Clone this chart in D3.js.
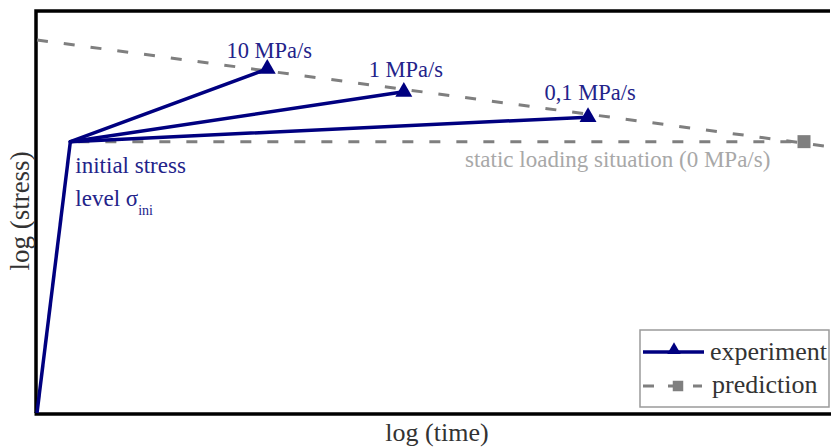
<!DOCTYPE html>
<html lang="en">
<head>
<meta charset="UTF-8">
<title>log stress vs log time</title>
<script src="https://d3js.org/d3.v7.min.js"></script>
<style>
  body { margin: 0; background: #fff; }
  text { font-family: "Liberation Serif", "Times New Roman", serif; }
</style>
</head>
<body>
<script>
    // data in abstract log units (x: log time, y: log stress), 0..100
    var initialPoint = [4.2, 67.5];
    var startPoint = [0, 0];
    var rateLabels = ["10 MPa/s", "1 MPa/s", "0,1 MPa/s"];
    var rateEndX = [29.0, 46.2, 69.4];
    var rateEndY = [85.6, 79.9, 73.6];
    var staticEnd = [96.6, 67.5];
    var predictionX = [0, 100];
    var predictionY = [92.8, 66.2];

    var W = 831, H = 448;

    var svg = d3.select('body')
        .append('svg')
        .attr('width', W)
        .attr('height', H);

    var x = d3.scaleLinear().domain([0, 100]).range([37, 831]);
    var y = d3.scaleLinear().domain([0, 100]).range([413, 11]);

    var navy = '#000080',
        navyText = '#23238a',
        grey = '#7f7f7f';

    // frame: left, top, bottom
    var frame = svg.append('g')
        .attr('stroke', '#000')
        .attr('stroke-width', 3.5)
        .attr('fill', 'none');
    frame.append('path')
        .attr('d', 'M' + x(0) + ',' + y(0) + 'V' + y(100) + 'H' + W)
        .attr('transform', 'translate(-1,0)');
    frame.append('line')
        .attr('x1', x(0) - 2.5).attr('x2', W)
        .attr('y1', y(0) + 1).attr('y2', y(0) + 1);

    var line = d3.line().x(d => x(d[0])).y(d => y(d[1]));

    // prediction: sloped dashed line and static horizontal dashed line
    var predPts = predictionX.map((v, i) => [v, predictionY[i]]);
    svg.append('path')
        .attr('d', line(predPts))
        .attr('fill', 'none')
        .attr('stroke', grey)
        .attr('stroke-width', 3)
        .attr('stroke-dasharray', '11,16');

    svg.append('path')
        .attr('d', line([initialPoint, staticEnd]))
        .attr('fill', 'none')
        .attr('stroke', grey)
        .attr('stroke-width', 3)
        .attr('stroke-dasharray', '11,16')
        .attr('stroke-dashoffset', -8);

    svg.append('path')
        .attr('transform', 'translate(' + x(staticEnd[0]) + ',' + y(staticEnd[1]) + ')')
        .attr('d', d3.symbol().type(d3.symbolSquare).size(169)())
        .attr('fill', grey);

    // experiment lines
    svg.append('path')
        .attr('d', line([startPoint, initialPoint]))
        .attr('fill', 'none')
        .attr('stroke', navy)
        .attr('stroke-width', 3.5)
        .attr('stroke-linejoin', 'round');

    rateEndX.forEach(function (ex, i) {
        var end = [ex, rateEndY[i]];
        svg.append('path')
            .attr('d', line([initialPoint, end]))
            .attr('fill', 'none')
            .attr('stroke', navy)
            .attr('stroke-width', 3.5)
            .attr('stroke-linecap', 'round');
        svg.append('path')
            .attr('transform', 'translate(' + x(ex) + ',' + y(end[1]) + ')')
            .attr('d', d3.symbol().type(d3.symbolTriangle).size(125)())
            .attr('fill', navy);
    });

    // rate labels
    var labelDy = [-11, -15, -17];
    rateEndX.forEach(function (ex, i) {
        svg.append('text')
            .attr('x', x(ex) + 2)
            .attr('y', y(rateEndY[i]) + labelDy[i])
            .attr('text-anchor', 'middle')
            .attr('font-size', 22.5)
            .attr('fill', navyText)
            .text(rateLabels[i]);
    });

    // initial stress label
    svg.append('text')
        .attr('x', x(initialPoint[0]) + 5)
        .attr('y', y(initialPoint[1]) + 31)
        .attr('font-size', 23)
        .attr('fill', navyText)
        .text('initial stress');
    var lvl = svg.append('text')
        .attr('x', x(initialPoint[0]) + 5)
        .attr('y', y(initialPoint[1]) + 64)
        .attr('font-size', 23)
        .attr('fill', navyText);
    lvl.append('tspan').text('level \u03c3');
    lvl.append('tspan')
        .attr('font-size', 14)
        .attr('dy', 9)
        .text('ini');

    // static label
    svg.append('text')
        .attr('x', 465)
        .attr('y', y(staticEnd[1]) + 25)
        .attr('font-size', 23)
        .attr('fill', '#a8a8a8')
        .text('static loading situation (0 MPa/s)');

    // axis titles
    svg.append('text')
        .attr('x', 437)
        .attr('y', 441)
        .attr('text-anchor', 'middle')
        .attr('font-size', 26)
        .attr('fill', '#333')
        .text('log (time)');
    svg.append('text')
        .attr('transform', 'translate(29,211) rotate(-90)')
        .attr('text-anchor', 'middle')
        .attr('font-size', 27)
        .attr('fill', '#333')
        .text('log (stress)');

    // legend
    var lg = svg.append('g').attr('transform', 'translate(640,330)');
    lg.append('rect')
        .attr('width', 189).attr('height', 77)
        .attr('fill', '#fff')
        .attr('stroke', '#9a9a9a')
        .attr('stroke-width', 1.5);
    lg.append('line')
        .attr('x1', 3).attr('x2', 64).attr('y1', 22).attr('y2', 22)
        .attr('stroke', navy).attr('stroke-width', 3.5);
    lg.append('path')
        .attr('transform', 'translate(34,20)')
        .attr('d', d3.symbol().type(d3.symbolTriangle).size(80)())
        .attr('fill', navy);
    lg.append('text')
        .attr('x', 70).attr('y', 30)
        .attr('font-size', 26)
        .attr('fill', '#333')
        .text('experiment');
    lg.append('line')
        .attr('x1', 3).attr('x2', 62).attr('y1', 56).attr('y2', 56)
        .attr('stroke', grey).attr('stroke-width', 3)
        .attr('stroke-dasharray', '11,14');
    lg.append('path')
        .attr('transform', 'translate(38,56)')
        .attr('d', d3.symbol().type(d3.symbolSquare).size(110)())
        .attr('fill', grey);
    lg.append('text')
        .attr('x', 72).attr('y', 63)
        .attr('font-size', 26)
        .attr('fill', '#333')
        .text('prediction');
</script>
</body>
</html>
